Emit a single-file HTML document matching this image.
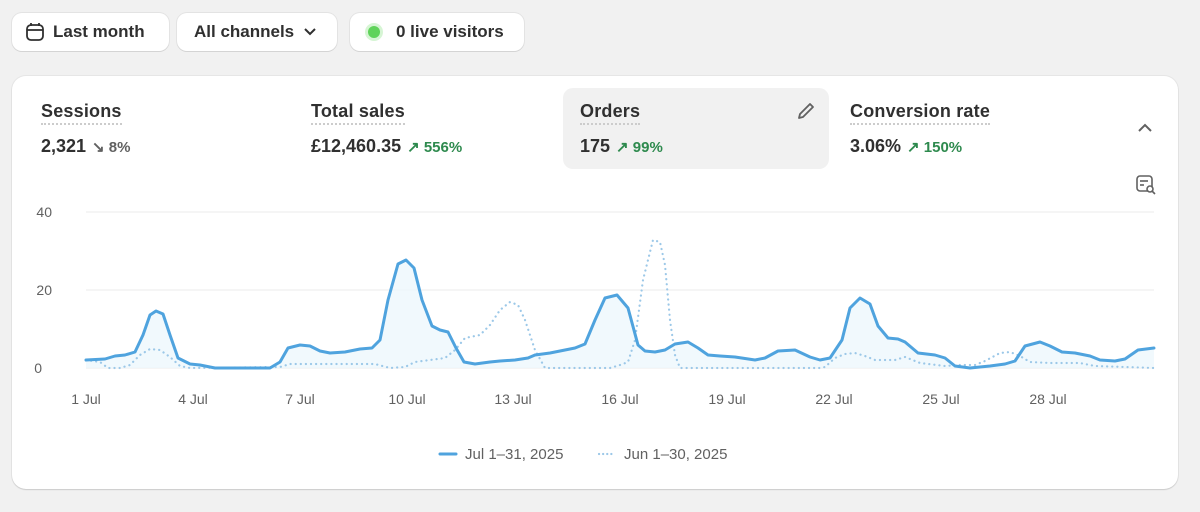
<!DOCTYPE html>
<html><head><style>
body{margin:0;width:1200px;height:512px;background:#f1f1f1;font-family:"Liberation Sans",sans-serif;color:#303030;position:relative;overflow:hidden}
.btn{position:absolute;top:13px;height:38px;background:#fff;border-radius:10px;box-shadow:0 1px 0 #d4d4d4,0 0 0 1px #e3e3e3;font-size:17px;font-weight:bold;display:flex;align-items:center;box-sizing:border-box;color:#303030;white-space:nowrap}
.card{position:absolute;left:12px;top:76px;width:1166px;height:413px;background:#fff;border-radius:14px;box-shadow:0 1px 1px #ccc,0 0 0 1px #e6e6e6}
.m{position:absolute;top:88px;height:81px;border-radius:10px}
.t{position:absolute;top:13px;font-size:18px;font-weight:bold;border-bottom:2px dotted #ccc;padding-bottom:1px;white-space:nowrap;letter-spacing:0.2px}
.v{position:absolute;top:48px;font-size:18px;font-weight:bold;white-space:nowrap}
.v span{font-size:15px;margin-left:6px}
.g{color:#2e8a4e}.gr{color:#616161}
.ax{font-size:14px;fill:#616161;font-family:"Liberation Sans",sans-serif}
</style></head><body>
<div class="btn" style="left:12px;width:157px;padding-left:13px"><svg width="20" height="20" viewBox="0 0 20 20" style="margin-right:8px"><rect x="2" y="3" width="16" height="15" rx="4" fill="none" stroke="#303030" stroke-width="1.8"/><line x1="2" y1="8" x2="18" y2="8" stroke="#303030" stroke-width="1.8"/><line x1="6" y1="1" x2="6" y2="4" stroke="#303030" stroke-width="1.8"/><line x1="14" y1="1" x2="14" y2="4" stroke="#303030" stroke-width="1.8"/></svg>Last month</div>
<div class="btn" style="left:177px;width:160px;padding-left:17px">All channels<svg width="14" height="10" style="margin-left:9px"><path d="M2 2l5 5 5-5" fill="none" stroke="#303030" stroke-width="2"/></svg></div>
<div class="btn" style="left:350px;width:174px;padding-left:18px"><span style="width:12px;height:12px;border-radius:50%;background:#5fd35a;box-shadow:0 0 0 3px #d6f5d4;margin-right:16px"></span>0 live visitors</div>
<div class="card"></div>
<div class="m" style="left:563px;width:266px;background:#f1f1f1"></div>
<div style="position:absolute;left:41px;top:88px"><div class="t" style="left:0">Sessions</div><div class="v" style="left:0">2,321<span class="gr">↘ 8%</span></div></div>
<div style="position:absolute;left:311px;top:88px"><div class="t" style="left:0">Total sales</div><div class="v" style="left:0">£12,460.35<span class="g">↗ 556%</span></div></div>
<div style="position:absolute;left:580px;top:88px"><div class="t" style="left:0">Orders</div><div class="v" style="left:0">175<span class="g">↗ 99%</span></div></div>
<div style="position:absolute;left:850px;top:88px"><div class="t" style="left:0">Conversion rate</div><div class="v" style="left:0">3.06%<span class="g">↗ 150%</span></div></div>
<svg style="position:absolute;left:795px;top:100px" width="22" height="22"><path d="M4 18l1-4L15 4l3 3L8 17z" fill="none" stroke="#616161" stroke-width="1.8" stroke-linejoin="round"/></svg>
<svg style="position:absolute;left:1136px;top:120px" width="18" height="16"><path d="M3 11l6-6 6 6" fill="none" stroke="#616161" stroke-width="2"/></svg>
<svg style="position:absolute;left:1136px;top:175px" width="22" height="20"><rect x="1" y="1" width="15" height="15" rx="3" fill="none" stroke="#616161" stroke-width="1.6"/><line x1="4" y1="6" x2="12" y2="6" stroke="#616161" stroke-width="1.6"/><line x1="4" y1="10" x2="8" y2="10" stroke="#616161" stroke-width="1.6"/><circle cx="14" cy="14" r="3" fill="#fff" stroke="#616161" stroke-width="1.6"/><line x1="16" y1="16" x2="19" y2="19" stroke="#616161" stroke-width="1.6"/></svg>
<svg style="position:absolute;left:0;top:0" width="1200" height="512">
<g stroke="#ebebeb" stroke-width="1"><line x1="86" y1="212" x2="1154" y2="212"/><line x1="86" y1="290" x2="1154" y2="290"/><line x1="86" y1="368" x2="1154" y2="368"/></g>
<text class="ax" x="52" y="217" text-anchor="end">40</text><text class="ax" x="52" y="295" text-anchor="end">20</text><text class="ax" x="42" y="373" text-anchor="end">0</text>
<g class="ax" text-anchor="middle"><text x="86" y="404">1 Jul</text><text x="193" y="404">4 Jul</text><text x="300" y="404">7 Jul</text><text x="407" y="404">10 Jul</text><text x="513" y="404">13 Jul</text><text x="620" y="404">16 Jul</text><text x="727" y="404">19 Jul</text><text x="834" y="404">22 Jul</text><text x="941" y="404">25 Jul</text><text x="1048" y="404">28 Jul</text></g>
<polygon fill="#eef7fd" opacity="0.8" points="86,368 86,360 105,359 115,356 125,355 135,352 143,335 150,315 156,311 163,314 170,335 178,358 190,364 200,365 215,368 270,368 280,362 288,348 300,345 310,346 320,351 330,353 345,352 360,349 372,348 380,340 388,300 398,264 406,260 414,268 422,300 432,326 440,330 448,332 456,348 464,362 475,364 490,362 500,361 515,360 528,358 535,355 550,353 560,351 575,348 585,344 595,320 605,298 617,295 628,308 638,345 645,351 655,352 665,350 675,344 688,342 698,348 708,355 720,356 735,357 755,360 765,358 778,351 795,350 810,357 820,360 830,358 842,340 850,308 860,298 870,304 878,326 888,338 898,339 905,342 918,353 935,355 945,358 955,366 970,368 990,366 1005,364 1015,361 1025,346 1040,342 1050,346 1062,352 1075,353 1090,356 1100,360 1115,361 1125,359 1138,350 1154,348 1154,368"/>
<polyline fill="none" stroke="#9cc8e8" stroke-width="2.2" stroke-dasharray="0.1 5" stroke-linecap="round" stroke-linejoin="round" points="86,360 100,362 108,368 120,368 130,365 140,355 150,349 160,350 170,357 180,366 190,368 280,367 290,364 375,364 390,368 405,367 415,362 430,360 445,358 455,350 465,338 480,335 490,325 500,310 510,302 518,305 525,320 535,350 545,368 610,368 620,365 628,362 635,340 643,280 653,240 660,242 665,265 670,320 675,355 680,368 820,368 825,367 835,358 845,354 855,353 865,356 875,360 895,360 905,357 920,363 945,366 960,365 975,365 985,361 1000,353 1010,352 1020,356 1030,362 1050,363 1080,363 1095,366 1154,368"/>
<polyline fill="none" stroke="#4fa3de" stroke-width="3" stroke-linecap="round" stroke-linejoin="round" points="86,360 105,359 115,356 125,355 135,352 143,335 150,315 156,311 163,314 170,335 178,358 190,364 200,365 215,368 270,368 280,362 288,348 300,345 310,346 320,351 330,353 345,352 360,349 372,348 380,340 388,300 398,264 406,260 414,268 422,300 432,326 440,330 448,332 456,348 464,362 475,364 490,362 500,361 515,360 528,358 535,355 550,353 560,351 575,348 585,344 595,320 605,298 617,295 628,308 638,345 645,351 655,352 665,350 675,344 688,342 698,348 708,355 720,356 735,357 755,360 765,358 778,351 795,350 810,357 820,360 830,358 842,340 850,308 860,298 870,304 878,326 888,338 898,339 905,342 918,353 935,355 945,358 955,366 970,368 990,366 1005,364 1015,361 1025,346 1040,342 1050,346 1062,352 1075,353 1090,356 1100,360 1115,361 1125,359 1138,350 1154,348"/>
<line x1="440" y1="454" x2="456" y2="454" stroke="#4fa3de" stroke-width="3" stroke-linecap="round"/>
<text class="ax" x="465" y="459" style="font-size:15px">Jul 1–31, 2025</text>
<line x1="599" y1="454" x2="615" y2="454" stroke="#9cc8e8" stroke-width="2.2" stroke-dasharray="0.1 4" stroke-linecap="round"/>
<text class="ax" x="624" y="459" style="font-size:15px">Jun 1–30, 2025</text>
</svg>
</body></html>
